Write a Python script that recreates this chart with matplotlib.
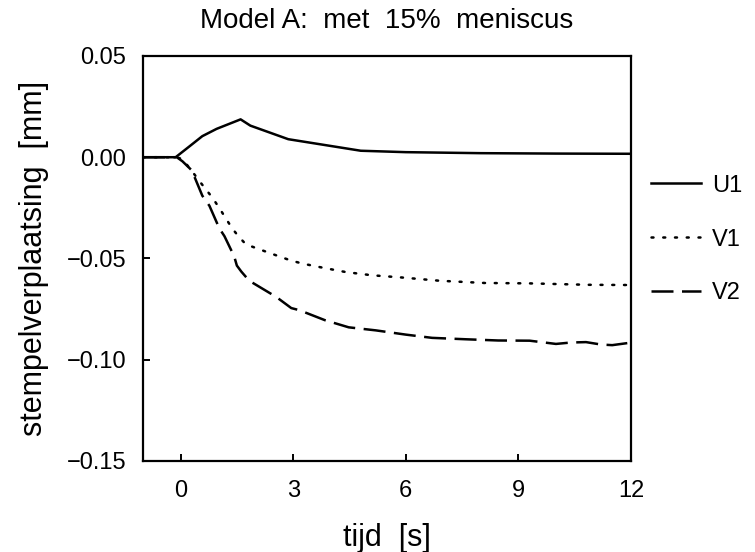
import matplotlib
matplotlib.use("Agg")
import matplotlib.pyplot as plt

plt.rcParams['font.family'] = ['Liberation Sans', 'DejaVu Sans']

# Time axis and displacement values per curve
t_u1 = [-1.0, -0.13, 0.24, 0.58, 0.96, 1.6, 1.86, 2.87, 4.8, 6.0, 8.0, 10.0, 12.0]
u1 = [0.0, 0.0, 0.0054, 0.0104, 0.014, 0.0187, 0.0156, 0.0089, 0.0032, 0.0025, 0.002, 0.0018, 0.0017]

t_v1 = [-1.0, -0.1, 0.05, 0.29, 0.47, 0.68, 0.85, 1.03, 1.2, 1.37, 1.54, 1.74, 2.03,
        2.33, 2.63, 2.94, 3.24, 3.8, 4.4, 5.1, 5.9, 6.9, 8.1, 9.3, 10.85, 11.9]
v1 = [0.0, 0.0, -0.001, -0.0065, -0.011, -0.016, -0.020, -0.025, -0.030, -0.035, -0.039,
      -0.043, -0.045, -0.047, -0.049, -0.051, -0.0525, -0.0546, -0.0567, -0.0583, -0.0594,
      -0.061, -0.0621, -0.0623, -0.063, -0.0631]

t_v2 = [-1.0, -0.1, 0.05, 0.3, 0.58, 0.77, 1.03, 1.17, 1.43, 1.5, 1.62, 1.83, 2.1, 2.55,
        2.95, 3.16, 3.85, 4.48, 5.2, 6.0, 6.7, 7.6, 8.46, 9.3, 10.0, 10.4, 10.8, 11.2, 11.5, 11.9]
v2 = [0.0, 0.0, -0.002, -0.0065, -0.019, -0.024, -0.035, -0.039, -0.049, -0.0535, -0.0565,
      -0.061, -0.064, -0.069, -0.0745, -0.0755, -0.0805, -0.084, -0.0855, -0.0876, -0.0892,
      -0.0899, -0.0905, -0.0906, -0.0922, -0.0915, -0.0913, -0.0925, -0.0928, -0.0918]

x_ticks = [0, 3, 6, 9, 12]
y_ticks = [0.05, 0.00, -0.05, -0.10, -0.15]
series_labels = ['U1', 'V1', 'V2']

fig = plt.figure(figsize=(7.55, 5.52), dpi=100)
ax = fig.add_axes([0.1894, 0.1649, 0.6464, 0.7337])

lw = 1.8
h1, = ax.plot(t_u1, u1, color='black', lw=lw, solid_joinstyle='round')
h2, = ax.plot(t_v1, v1, color='black', lw=lw, dashes=(0.8, 3.9), dash_capstyle='round')
h3, = ax.plot(t_v2, v2, color='black', lw=lw, dashes=(8.8, 3.4))

ax.set_xlim(-1, 12)
ax.set_ylim(-0.15, 0.05)
ax.set_xticks(x_ticks)
ax.set_xticklabels([str(v) for v in x_ticks])
ax.set_yticks(y_ticks)
ax.set_yticklabels(['0.05', '0.00', '\u22120.05', '\u22120.10', '\u22120.15'])

for s in ax.spines.values():
    s.set_linewidth(1.6)
ax.tick_params(axis='both', direction='in', length=5, width=1.4, labelsize=17)
ax.tick_params(axis='x', pad=14)
ax.tick_params(axis='y', pad=12)

ax.set_title('Model A:  met  15%  meniscus', fontsize=20, pad=20)
ax.set_xlabel('tijd  [s]', fontsize=22, labelpad=15)
ax.set_ylabel('stempelverplaatsing  [mm]', fontsize=22, labelpad=13)

ax.legend([h1, h2, h3], series_labels, loc='upper left',
          bbox_to_anchor=(0.846, 0.705), bbox_transform=fig.transFigure,
          frameon=False, fontsize=17, handlelength=2.15, handletextpad=0.45,
          labelspacing=1.35, borderpad=0)

fig.savefig('out.png', dpi=100)
